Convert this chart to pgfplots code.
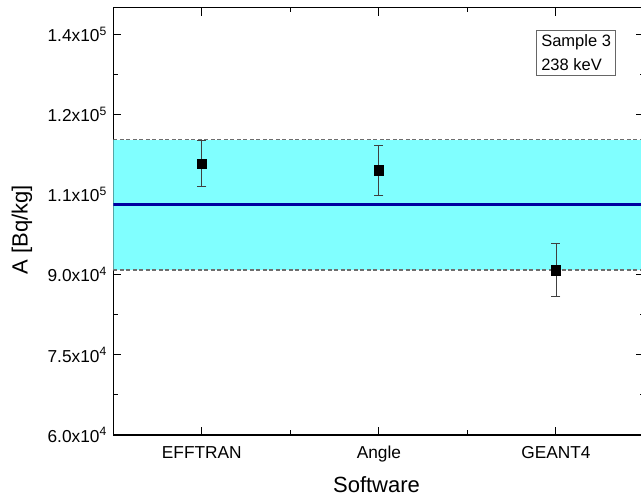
\documentclass[border=0pt]{standalone}
\usepackage{pgfplots}
\pgfplotsset{compat=1.18}
\usepackage{fontspec}
\setmainfont{Liberation Sans}
\definecolor{bandcyan}{RGB}{128,255,255}
\definecolor{meanblue}{RGB}{0,0,160}
\definecolor{dashgray}{RGB}{110,110,110}
\begin{document}
\begin{tikzpicture}[x=1pt,y=1pt]
\begin{axis}[
  at={(113.3pt,62pt)}, anchor=south west,
  scale only axis, width=531.2pt, height=427.4pt,
  xmin=0.5, xmax=3.5, ymin=60000, ymax=140000,
  scaled y ticks=false,
  axis line style={line width=1.3pt},
  xtick={1,2,3}, xticklabels={EFFTRAN,Angle,GEANT4},
  minor xtick={1.5,2.5},
  ytick={60000,75000,90000,105000,120000,135000},
  yticklabels={6.0x10\textsuperscript{4},7.5x10\textsuperscript{4},9.0x10\textsuperscript{4},1.1x10\textsuperscript{5},1.2x10\textsuperscript{5},1.4x10\textsuperscript{5}},
  minor ytick={67500,82500,97500,112500,127500},
  tick align=inside,
  major tick length=8pt, minor tick length=4.5pt,
  every tick/.style={black, line width=1pt},
  tick label style={font=\fontsize{17.3}{20}\selectfont},
  yticklabel style={xshift=-3pt},
  xticklabel style={yshift=-7pt, text height=12.5pt, text depth=3.5pt},
  xlabel={Software}, ylabel={A [Bq/kg]},
  label style={font=\fontsize{22}{26}\selectfont},
  xlabel style={at={(axis description cs:0.4955,-0.117)}, anchor=center},
  ylabel style={at={(axis description cs:-0.172,0.48)}, anchor=center},
  clip=true,
]
% band
\addplot[fill=bandcyan, draw=none, forget plot] coordinates {(0.5,90850) (3.5,90850) (3.5,115300) (0.5,115300)} -- cycle;
\addplot[dashgray, line width=1.4pt, dash pattern=on 4pt off 2.5pt, forget plot] coordinates {(0.5,115300) (3.5,115300)};
\addplot[dashgray, line width=1.4pt, dash pattern=on 4pt off 2.5pt, forget plot] coordinates {(0.5,90850) (3.5,90850)};
\addplot[meanblue, line width=2.4pt, forget plot] coordinates {(0.5,103150) (3.5,103150)};
% data
\addplot[only marks, mark=square*, mark size=4.7pt, black,
  error bars/.cd, y dir=both, y explicit,
  error bar style={black!75, line width=0.9pt},
  error mark options={rotate=90, mark size=4.5pt, line width=0.9pt, black!75}]
  coordinates {
    (1,110800) +- (0,4300)
    (2,109550) +- (0,4680)
    (3,90850) +- (0,4950)
  };
\node[draw=black!60, line width=0.8pt, align=left, inner sep=4.5pt,
  font=\fontsize{16.5}{24}\selectfont] at (axis cs:3.114,131550) {Sample 3\\238 keV};
\end{axis}
\pgfresetboundingbox
\path[use as bounding box] (0pt,0pt) rectangle (641pt,497pt);
\end{tikzpicture}
\end{document}
